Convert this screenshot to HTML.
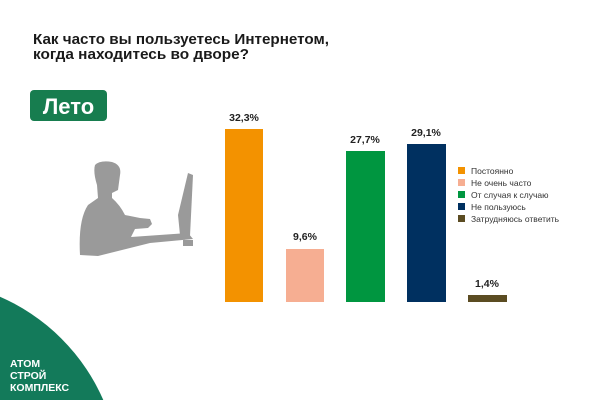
<!DOCTYPE html>
<html><head><meta charset="utf-8"><style>
html,body{margin:0;width:600px;height:400px;overflow:hidden;background:#fff;font-family:"Liberation Sans",sans-serif}
svg{display:block}
</style></head><body>
<svg width="600" height="400" viewBox="0 0 600 400" xmlns="http://www.w3.org/2000/svg" font-family="Liberation Sans, sans-serif">
<rect width="600" height="400" fill="#fff"/>
<text x="33" y="44" font-size="15" font-weight="bold" fill="#1a1a1a" textLength="296" lengthAdjust="spacingAndGlyphs">Как часто вы пользуетесь Интернетом,</text>
<text x="33" y="59" font-size="15" font-weight="bold" fill="#1a1a1a" textLength="216" lengthAdjust="spacingAndGlyphs">когда находитесь во дворе?</text>
<rect x="30" y="90" width="77" height="31" rx="4" fill="#177d4f"/>
<text x="68.5" y="114" font-size="22" font-weight="bold" fill="#fff" text-anchor="middle">Лето</text>
<circle cx="-80" cy="480" r="200" fill="#137a5a"/>
<text x="10" y="367" font-size="10.5" font-weight="bold" fill="#fff">АТОМ</text>
<text x="10" y="379" font-size="10.5" font-weight="bold" fill="#fff">СТРОЙ</text>
<text x="10" y="391" font-size="10.5" font-weight="bold" fill="#fff">КОМПЛЕКС</text>
<g fill="#9a9a9a">
<path d="M95 165 Q100 160 112 162 Q122 165 120 175 L118 190 L112 193 L112 198 Q120 205 125 215 L140 218 L150 219 L152 224 L148 228 L135 229 L131 237 L188 233 L193 239 L150 243 L98 256 L80 255 Q78 220 88 205 L98 198 L97 185 Q93 172 95 165Z"/>
<path d="M188 173 L193 175 L190 236 L184 240 L180 235 L178 215 Z"/>
<rect x="183" y="240" width="10" height="6"/>
</g>
<rect x="225" y="129" width="38" height="173" fill="#f39200"/>
<rect x="286" y="249" width="38" height="53" fill="#f6ae92"/>
<rect x="346" y="151" width="39" height="151" fill="#009640"/>
<rect x="407" y="144" width="39" height="158" fill="#003060"/>
<rect x="468" y="295" width="39" height="7" fill="#5b4c22"/>
<g font-size="10.5" font-weight="bold" fill="#222" text-anchor="middle">
<text x="244" y="121">32,3%</text>
<text x="305" y="240">9,6%</text>
<text x="365" y="143">27,7%</text>
<text x="426" y="136">29,1%</text>
<text x="487" y="287">1,4%</text>
</g>
<g font-size="8.5" fill="#333">
<rect x="458" y="167" width="7" height="7" fill="#f39200"/><text x="471" y="174">Постоянно</text>
<rect x="458" y="179" width="7" height="7" fill="#f6ae92"/><text x="471" y="186">Не очень часто</text>
<rect x="458" y="191" width="7" height="7" fill="#009640"/><text x="471" y="198">От случая к случаю</text>
<rect x="458" y="203" width="7" height="7" fill="#003060"/><text x="471" y="210">Не пользуюсь</text>
<rect x="458" y="215" width="7" height="7" fill="#5b4c22"/><text x="471" y="222">Затрудняюсь ответить</text>
</g>
</svg>
</body></html>
